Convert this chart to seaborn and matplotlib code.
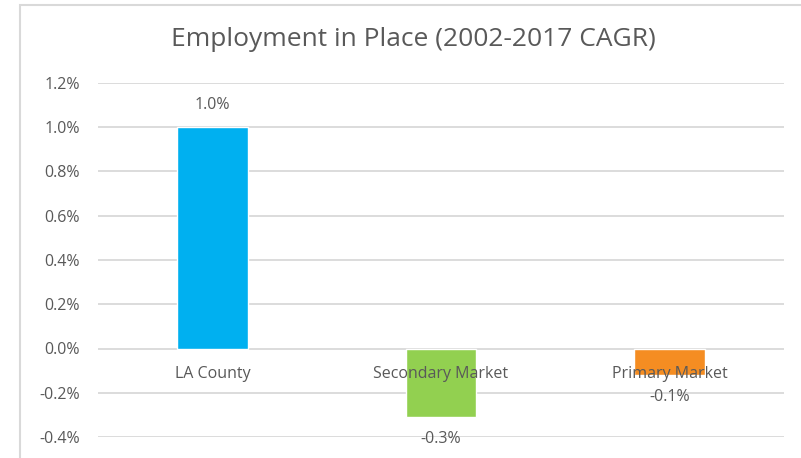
import matplotlib
matplotlib.use("Agg")
import matplotlib.pyplot as plt
from matplotlib.patches import Rectangle
from matplotlib.ticker import FuncFormatter, MultipleLocator
import seaborn as sns
import pandas as pd

# Compound annual growth rate of employment in place, 2002-2017 (percent)
categories = ["LA County", "Secondary Market", "Primary Market"]
cagr = [1.0, -0.31, -0.12]
colors = ["#00B0F0", "#92D050", "#F58D22"]
title = "Employment in Place (2002-2017 CAGR)"

df = pd.DataFrame({"area": categories, "cagr": cagr})

sns.set_theme(style="white")
plt.rcParams["font.family"] = ["Open Sans", "DejaVu Sans"]
text_color = "#595959"
grid_color = "#D9D9D9"
fs = 11.5

W, H = 801, 458
fig = plt.figure(figsize=(W / 100, H / 100), dpi=100)
ax = fig.add_axes([98 / W, (H - 437) / H, (784 - 98) / W, (437 - 83) / H])

sns.barplot(data=df, x="area", y="cagr", hue="area", palette=colors,
            width=0.31, legend=False, ax=ax, saturation=1)

ax.set_ylim(-0.4, 1.2)
ax.set_xlim(-0.5, len(categories) - 0.5)
ax.yaxis.set_major_locator(MultipleLocator(0.2))
ax.yaxis.set_major_formatter(FuncFormatter(lambda v, _: f"{v:.1f}%"))
ax.grid(axis="y", color=grid_color, linewidth=1.3)
ax.set_axisbelow(True)
for s in ax.spines.values():
    s.set_visible(False)
ax.tick_params(axis="y", length=0, pad=13, labelsize=fs, labelcolor=text_color)
ax.set_xticks([])
ax.set_xlabel("")
ax.set_ylabel("")

# Category names sit just below the zero line
for i, name in enumerate(categories):
    ax.annotate(name, (i, 0), xytext=(0, -18), textcoords="offset points",
                ha="center", va="center", fontsize=fs, color=text_color)

# Value labels at the bar ends
for i, v in enumerate(cagr):
    off = 16 if v >= 0 else -16
    ax.annotate(f"{v:.1f}%", (i, v), xytext=(0, off), textcoords="offset points",
                ha="center", va="center", fontsize=fs, color=text_color)

fig.text(413 / W, (H - 40) / H, title, ha="center", va="center",
         fontsize=19, color=text_color)

# Chart-area frame
fig.patches.append(Rectangle((20 / W, -0.1), 1.2, (H - 5) / H + 0.1,
                             transform=fig.transFigure, fill=False,
                             edgecolor=grid_color, linewidth=1.5))

fig.savefig("out.png", dpi=100)
